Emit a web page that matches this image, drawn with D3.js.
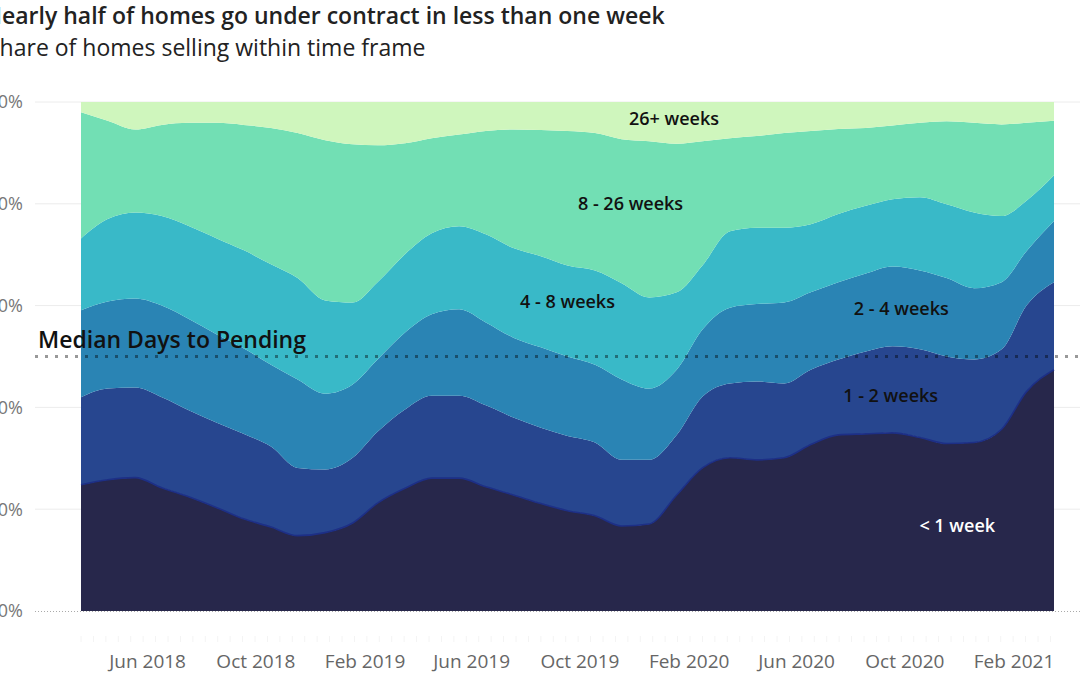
<!DOCTYPE html>
<html>
<head>
<meta charset="utf-8">
<script src="https://cdn.jsdelivr.net/npm/d3@7"></script>
<style>
  body { margin: 0; background: #fff; }
  svg { display: block; font-family: "Open Sans", sans-serif; }
</style>
</head>
<body>
<script>
// monthly, Apr 2018 - Apr 2021
var months = ["2018-04","2018-05","2018-06","2018-07","2018-08","2018-09","2018-10","2018-11","2018-12",
  "2019-01","2019-02","2019-03","2019-04","2019-05","2019-06","2019-07","2019-08","2019-09","2019-10","2019-11","2019-12",
  "2020-01","2020-02","2020-03","2020-04","2020-05","2020-06","2020-07","2020-08","2020-09","2020-10","2020-11","2020-12",
  "2021-01","2021-02","2021-03","2021-04"];

var categories = ["< 1 week", "1 - 2 weeks", "2 - 4 weeks", "4 - 8 weeks", "8 - 26 weeks", "26+ weeks"];
var colors = ["#27274b", "#27468f", "#2a84b4", "#39b9c8", "#72dfb4", "#cff6bd"];

// share of homes (%) per bucket
var under1w = [24.8,25.8,26.2,24.2,22.4,20.3,18.1,16.5,14.8,15.4,17.3,21.2,24.1,26.1,26.1,24.4,22.8,21.1,19.7,18.7,16.7,
  17.1,22.8,28.1,30.1,29.7,30.1,32.7,34.6,34.8,35.0,34.1,32.9,33.1,35.7,43.1,47.4];
var w1to2 = [17.2,17.9,17.7,17.8,17.0,16.7,16.7,15.8,13.3,12.4,12.8,14.0,15.5,16.2,16.2,16.0,15.2,14.9,14.7,14.4,13.0,
  12.6,11.8,14.0,14.6,15.4,14.6,14.7,14.8,16.2,17.0,17.3,17.1,16.3,15.7,16.9,17.2];
var w2to4 = [17.1,17.1,17.5,18.0,17.9,17.3,16.8,16.1,17.4,14.9,14.4,14.2,15.1,16.0,17.0,16.3,15.7,15.8,15.6,15.3,15.8,
  14.0,12.8,13.2,14.9,15.2,15.9,15.2,15.2,15.3,15.7,15.5,15.4,14.0,13.2,10.7,12.0];
var w4to8 = [14.1,16.2,16.9,17.6,18.3,18.9,19.3,19.7,19.9,18.3,16.1,15.2,15.4,15.9,16.3,17.3,17.6,17.9,17.9,18.5,18.9,
  17.9,15.2,12.6,15.0,15.0,14.7,13.4,13.4,13.3,13.2,14.4,14.5,14.9,13.0,9.9,9.0];
var w8to26 = [24.8,19.3,16.3,17.9,20.3,22.7,24.6,26.8,28.5,31.5,31.1,26.9,21.8,18.7,18.0,20.3,23.3,24.8,26.4,27.0,28.3,
  30.7,29.2,24.4,18.3,18.0,18.6,18.3,16.7,15.3,14.5,14.6,16.3,17.6,18.0,15.3,10.7];
var w26plus = [2.0,3.7,5.4,4.5,4.1,4.1,4.5,5.1,6.1,7.5,8.3,8.5,8.1,7.1,6.4,5.7,5.4,5.5,5.7,6.1,7.3,
  7.7,8.2,7.7,7.1,6.7,6.1,5.7,5.3,5.1,4.6,4.1,3.8,4.1,4.4,4.1,3.7];

var yTicks = [0, 20, 40, 60, 80, 100];
var xTickLabels = ["2018-06-15","2018-10-15","2019-02-15","2019-06-15","2019-10-15","2020-02-15","2020-06-15","2020-10-15","2021-02-15"];
var medianShare = 50;

// label anchors: [date, share], same order as categories
var labelPos = [["2020-12-13", 16.7], ["2020-09-29", 42.3], ["2020-10-11", 59.3],
  ["2019-10-01", 60.8], ["2019-12-11", 80.1], ["2020-01-29", 96.7]];

var W = 1080, H = 675;
var parse = d3.timeParse("%Y-%m");
var parseDay = d3.timeParse("%Y-%m-%d");

var rows = months.map(function(m, i){
  return { date: parse(m), a: under1w[i], b: w1to2[i], c: w2to4[i], d: w4to8[i], e: w8to26[i], f: w26plus[i] };
});
var keys = ["a","b","c","d","e","f"];

var x = d3.scaleTime()
  .domain([rows[0].date, rows[rows.length - 1].date])
  .range([81, 1054]);
var y = d3.scaleLinear().domain([0, 100]).range([611, 102]);

var svg = d3.select("body").append("svg").attr("width", W).attr("height", H);

// grid
svg.append("g").selectAll("line")
  .data(yTicks.filter(function(t){ return t > 0; }))
  .enter().append("line")
  .attr("x1", 35).attr("x2", W)
  .attr("y1", function(d){ return y(d); }).attr("y2", function(d){ return y(d); })
  .attr("stroke", "#ececec").attr("stroke-width", 1);

svg.append("line")
  .attr("x1", 35).attr("x2", W).attr("y1", y(0) + 0.5).attr("y2", y(0) + 0.5)
  .attr("stroke", "#aaa").attr("stroke-width", 1).attr("stroke-dasharray", "1,2");

// y labels (left edge is cropped in the original)
svg.append("g").selectAll("text")
  .data(yTicks).enter().append("text")
  .attr("x", 23).attr("y", function(d){ return y(d); })
  .attr("dy", "0.35em").attr("text-anchor", "end")
  .attr("fill", "#777").attr("font-size", 18)
  .text(function(d){ return d + "%"; });

// stacked areas
var stack = d3.stack().keys(keys);
var series = stack(rows);

var area = d3.area()
  .x(function(d){ return x(d.data.date); })
  .y0(function(d){ return y(d[0]); })
  .y1(function(d){ return y(d[1]); })
  .curve(d3.curveMonotoneX);

svg.append("g").selectAll("path")
  .data(series).enter().append("path")
  .attr("d", area)
  .attr("fill", function(d, i){ return colors[i]; });

// thin edge on top of the darkest band
var topLine = d3.line()
  .x(function(d){ return x(d.data.date); })
  .y(function(d){ return y(d[1]); })
  .curve(d3.curveMonotoneX);
svg.append("path")
  .datum(series[0])
  .attr("d", topLine)
  .attr("fill", "none")
  .attr("stroke", "#1d2f86")
  .attr("stroke-width", 1.6);

// faint minor ticks below the plot
var minor = d3.timeWeek.every(2).range(x.domain()[0], x.domain()[1]);
svg.append("g").selectAll("line")
  .data(minor).enter().append("line")
  .attr("x1", function(d){ return x(d); }).attr("x2", function(d){ return x(d); })
  .attr("y1", 636).attr("y2", 642)
  .attr("stroke", "#f4f4f4").attr("stroke-width", 1);

// x axis labels
svg.append("g").selectAll("text")
  .data(xTickLabels).enter().append("text")
  .attr("x", function(d){ return x(parseDay(d)); })
  .attr("y", 668)
  .attr("text-anchor", "middle")
  .attr("fill", "#666").attr("font-size", 19)
  .text(function(d){ return d3.timeFormat("%b %Y")(parseDay(d)); });

// median line
svg.append("line")
  .attr("x1", 35).attr("x2", W)
  .attr("y1", y(medianShare)).attr("y2", y(medianShare))
  .attr("stroke", "rgba(0,0,0,0.4)").attr("stroke-width", 3)
  .attr("stroke-dasharray", "3,7");

svg.append("text")
  .attr("x", 38).attr("y", y(medianShare) - 9)
  .attr("font-size", 23).attr("font-weight", 600).attr("fill", "#111")
  .text("Median Days to Pending");

// band labels
svg.append("g").selectAll("text")
  .data(labelPos).enter().append("text")
  .attr("x", function(d){ return x(parseDay(d[0])); })
  .attr("y", function(d){ return y(d[1]); })
  .attr("dy", "0.35em").attr("text-anchor", "middle")
  .attr("font-size", 18).attr("font-weight", 600)
  .attr("fill", function(d, i){ return i === 0 ? "#fff" : "#111"; })
  .text(function(d, i){ return categories[i]; });

// titles (left edge cropped)
svg.append("text")
  .attr("x", -16).attr("y", 24)
  .attr("font-size", 23).attr("font-weight", 600).attr("fill", "#222")
  .text("Nearly half of homes go under contract in less than one week");
svg.append("text")
  .attr("x", -13).attr("y", 56)
  .attr("font-size", 23).attr("fill", "#222")
  .text("Share of homes selling within time frame");
</script>
</body>
</html>
